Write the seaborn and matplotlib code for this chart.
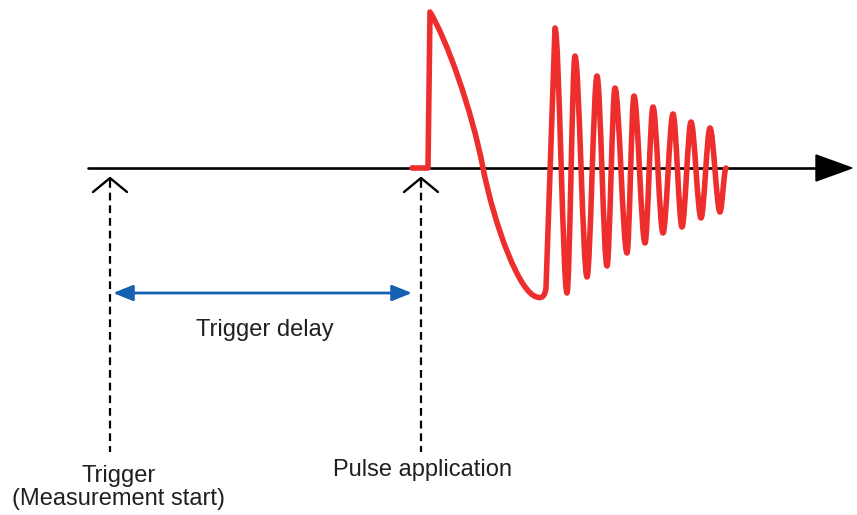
import seaborn as sns
import matplotlib.pyplot as plt
import numpy as np
import pandas as pd
from matplotlib.path import Path
from matplotlib.patches import PathPatch, Polygon

# --- diagram values (pixel space of the 857x515 picture) ---
baseline_y = 168
axis_x = [88, 818]
trigger_x = 110
pulse_x = 421
dash_bottom = 452

pulse_start = [412, 168]
pulse_peak = [430, 12]
pulse_zero = [483, 168]
pulse_trough = [537, 297]

# ringing peaks/troughs
osc_x = [555, 567, 575, 587, 597, 607, 615, 627, 634, 645, 653, 663, 673, 682, 691, 701, 710, 720]
osc_y = [28, 293, 56, 277, 76, 266, 88, 253, 96, 243, 107, 233, 114, 227, 122, 218, 128, 212]
osc_end = [726, 168]

delay_x = [113, 412]
delay_y = 293

labels = ["Trigger delay", "Trigger", "(Measurement start)", "Pulse application"]

sns.set_style("white")
plt.rcParams['font.family'] = ['Liberation Sans', 'DejaVu Sans']

fig = plt.figure(figsize=(8.57, 5.15), dpi=100)
ax = fig.add_axes([0, 0, 1, 1])
ax.set_xlim(0, 857)
ax.set_ylim(515, 0)
ax.axis('off')

# time axis
axis_df = pd.DataFrame({'x': axis_x, 'y': [baseline_y, baseline_y]})
sns.lineplot(data=axis_df, x='x', y='y', color='black', lw=1.9, ax=ax, sort=False,
             estimator=None)
ax.add_patch(Polygon([[816, 155], [852, 168], [816, 181]], closed=True, color='black'))

# dashed markers and carets
for xc in [trigger_x, pulse_x]:
    d = pd.DataFrame({'x': [xc, xc], 'y': [180, dash_bottom]})
    sns.lineplot(data=d, x='x', y='y', color='black', lw=1.6, ax=ax, sort=False,
                 estimator=None, linestyle=(0, (3.5, 2.2)))
    c = pd.DataFrame({'x': [xc - 17, xc, xc + 17], 'y': [192, 178, 192]})
    sns.lineplot(data=c, x='x', y='y', color='black', lw=1.7, ax=ax, sort=False,
                 estimator=None)

# waveform
verts = [tuple(pulse_start), (428, 168), tuple(pulse_peak),
         (446, 38), (472, 110), tuple(pulse_zero),
         (495, 228), (520, 294), tuple(pulse_trough),
         (542, 299), (545, 296), (546, 288)]
codes = [Path.MOVETO, Path.LINETO, Path.LINETO,
         Path.CURVE4, Path.CURVE4, Path.CURVE4,
         Path.CURVE4, Path.CURVE4, Path.CURVE4,
         Path.CURVE4, Path.CURVE4, Path.CURVE4]
verts.append((osc_x[0], osc_y[0]))
codes.append(Path.LINETO)
pts = list(zip(osc_x, osc_y)) + [tuple(osc_end)]
for (x1, y1), (x2, y2) in zip(pts[:-1], pts[1:]):
    k = 0.33 * (x2 - x1)
    verts += [(x1 + k, y1), (x2 - k, y2), (x2, y2)]
    codes += [Path.CURVE4] * 3
ax.add_patch(PathPatch(Path(verts, codes), fill=False, edgecolor='#ee2d2d', lw=4.0,
                       capstyle='round', joinstyle='round', zorder=3))

# trigger delay arrow
ax.annotate('', xy=(delay_x[1], delay_y), xytext=(delay_x[0], delay_y),
            arrowprops=dict(arrowstyle='<|-|>,head_length=0.6,head_width=0.24',
                            mutation_scale=20, color='#1560b0', lw=2, shrinkA=0, shrinkB=0))

txt = dict(ha='center', va='center', fontsize=17, color='#231f20')
ax.text(265, 330, labels[0], **txt)
ax.text(119, 476, labels[1], **txt)
ax.text(119, 499, labels[2], **txt)
ax.text(423, 470, labels[3], **txt)

plt.savefig('out.png', dpi=100)
